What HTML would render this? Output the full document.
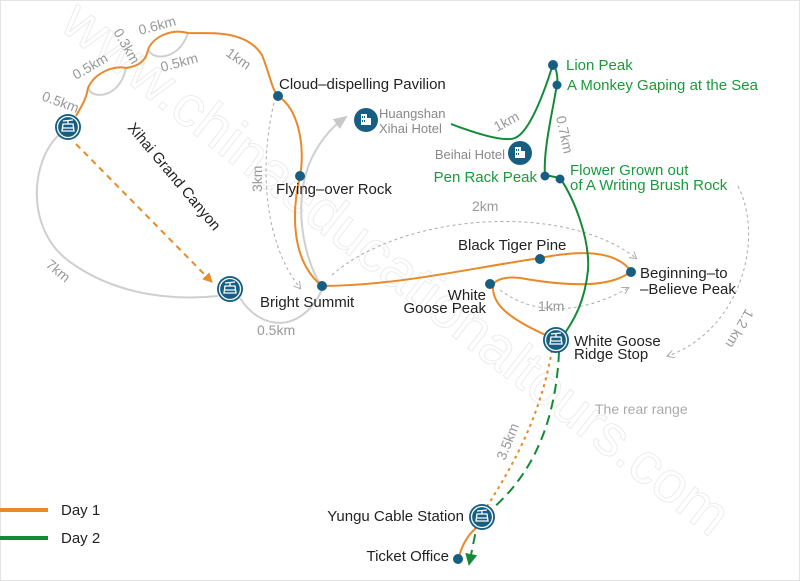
<!DOCTYPE html>
<html><head><meta charset="utf-8"><style>
html,body{margin:0;padding:0;background:#fff;overflow:hidden}
svg{display:block}
text{font-family:"Liberation Sans",sans-serif}
</style></head><body>
<svg width="800" height="581" viewBox="0 0 800 581" xmlns="http://www.w3.org/2000/svg">
<defs>
<marker id="ao" markerWidth="10" markerHeight="10" refX="6" refY="5" orient="auto" markerUnits="userSpaceOnUse"><path d="M0,0 L10,5 L0,10 z" fill="#e8892a"/></marker>
<marker id="ag" markerWidth="12" markerHeight="12" refX="6" refY="6" orient="auto" markerUnits="userSpaceOnUse"><path d="M0,0 L12,6 L0,12 z" fill="#138a36"/></marker>
<marker id="agr" markerWidth="14" markerHeight="14" refX="7" refY="7" orient="auto" markerUnits="userSpaceOnUse"><path d="M0,1 L14,7 L0,13 z" fill="#c8c8c8"/></marker>
<marker id="ad" markerWidth="8" markerHeight="8" refX="6" refY="4" orient="auto" markerUnits="userSpaceOnUse"><path d="M0,0 L7,4 L0,8" fill="none" stroke="#aaa" stroke-width="1"/></marker>
<g id="cab"><circle r="13" fill="#175f82"/><circle r="10.5" fill="none" stroke="#fff" stroke-width="1.3"/><path d="M-5,-6 L5,-7 M0,-6.5 L0,-3 M-5,-3 h10 l1,7 h-12 z M-6,1 h12" fill="none" stroke="#fff" stroke-width="1.3"/></g>
<g id="hot"><circle r="12" fill="#175f82"/><rect x="-5" y="-6" width="6" height="11" fill="#fff"/><rect x="1" y="-2" width="4" height="7" fill="#fff"/><path d="M-3.5,-4v2M-1.5,-4v2M-3.5,0v2M-1.5,0v2" stroke="#175f82" stroke-width="1"/></g>
</defs>
<rect x="0.5" y="0.5" width="799" height="580" fill="none" stroke="#e4e4e4"/>
<text x="0" y="0" transform="translate(58,28) rotate(38)" font-size="58" fill="none" stroke="#ececec" stroke-width="1">www.chinaeducationaltours.com</text>

<g fill="none" stroke="#cfcfcf" stroke-width="2">
<path d="M88,88 C92,100 120,98 126,68"/>
<path d="M148,50 C155,62 180,58 188,33"/>
<path d="M60,134 C30,160 25,230 70,262 C120,298 180,300 218,296"/>
<path d="M240,298 C260,330 300,335 322,290"/>
<path d="M320,284 C300,250 292,190 316,150 C325,135 335,125 342,120" marker-end="url(#agr)"/>
</g>
<g fill="none" stroke="#aaa" stroke-width="1" stroke-dasharray="3,3">
<path d="M274,103 C260,160 262,240 300,288" marker-end="url(#ad)"/>
<path d="M332,275 C400,215 560,200 636,258" marker-end="url(#ad)"/>
<path d="M500,290 C540,320 590,310 628,288" marker-end="url(#ad)"/>
<path d="M738,186 C765,240 740,330 668,356" marker-end="url(#ad)"/>
</g>
<g fill="none" stroke="#e8892a" stroke-width="2">
<path d="M76,116 C82,105 86,100 88,88 C95,72 115,65 126,68 C140,66 146,60 148,50 C152,38 170,28 188,33 C205,34 245,28 262,55 C270,75 272,90 278,96 C300,110 305,150 300,176 C292,210 290,260 322,286 C400,285 460,270 540,258 C580,250 615,250 631,271 C610,290 560,285 520,278 C505,276 495,280 493,285 C492,300 500,315 548,336"/>
<path d="M76,144 L210,280" stroke-dasharray="6,5" marker-end="url(#ao)"/>
<path d="M552,350 C540,420 510,470 486,508" stroke-dasharray="3,4"/>
<path d="M476,528 C468,535 462,545 459,557"/>
</g>
<g fill="none" stroke="#138a36" stroke-width="2">
<path d="M451,124 C480,135 505,142 515,138 C530,132 545,90 553,64 C557,70 558,78 557,84 C553,110 543,150 545,175 L560,178 C575,200 590,240 588,270 C585,300 575,320 560,340"/>
<path d="M559,352 C555,440 520,490 478,520 L470,560" stroke-dasharray="10,6" marker-end="url(#ag)"/>
</g>
<g fill="#175f82">
<circle cx="278" cy="96" r="5"/><circle cx="300" cy="176" r="5"/><circle cx="322" cy="286" r="5"/>
<circle cx="540" cy="259" r="5"/><circle cx="631" cy="272" r="5"/><circle cx="490" cy="284" r="5"/>
<circle cx="553" cy="65" r="5"/><circle cx="557" cy="85" r="4.5"/><circle cx="545" cy="176" r="4.5"/><circle cx="560" cy="179" r="4.5"/>
<circle cx="458" cy="559" r="5"/>
</g>
<use href="#cab" x="68" y="127"/><use href="#cab" x="230" y="289"/><use href="#cab" x="556" y="340"/><use href="#cab" x="482" y="517"/>
<use href="#hot" x="366" y="120"/><use href="#hot" x="520" y="153"/>
<g font-size="15" fill="#222">
<text x="279" y="89">Cloud–dispelling Pavilion</text>
<text x="276" y="194">Flying–over Rock</text>
<text x="260" y="307">Bright Summit</text>
<text x="458" y="250">Black Tiger Pine</text>
<text x="640" y="278">Beginning–to</text>
<text x="640" y="294">–Believe Peak</text>
<text x="486" y="300" text-anchor="end">White</text>
<text x="486" y="313" text-anchor="end">Goose Peak</text>
<text x="574" y="346">White Goose</text>
<text x="574" y="359">Ridge Stop</text>
<text x="464" y="521" text-anchor="end">Yungu Cable Station</text>
<text x="449" y="561" text-anchor="end">Ticket Office</text>
<text x="61" y="515">Day 1</text><text x="61" y="543">Day 2</text>
<text transform="translate(127,128) rotate(50)" font-size="15">Xihai Grand Canyon</text>
</g>
<g font-size="13" fill="#888"><text x="379" y="118">Huangshan</text><text x="379" y="133">Xihai Hotel</text><text x="505" y="159" text-anchor="end">Beihai Hotel</text></g>
<g font-size="15" fill="#1a9a3a">
<text x="566" y="70">Lion Peak</text><text x="567" y="90">A Monkey Gaping at the Sea</text>
<text x="537" y="182" text-anchor="end">Pen Rack Peak</text>
<text x="570" y="175">Flower Grown out</text><text x="570" y="190">of A Writing Brush Rock</text>
</g>
<g font-size="14" fill="#999">
<text transform="translate(41,100) rotate(20)">0.5km</text>
<text transform="translate(76,80) rotate(-30)">0.5km</text>
<text transform="translate(113,32) rotate(60)">0.3km</text>
<text transform="translate(140,35) rotate(-15)">0.6km</text>
<text transform="translate(162,72) rotate(-15)">0.5km</text>
<text transform="translate(225,55) rotate(35)">1km</text>
<text transform="translate(262,192) rotate(-90)">3km</text>
<text transform="translate(45,266) rotate(40)">7km</text>
<text x="257" y="335">0.5km</text>
<text x="472" y="211">2km</text>
<text x="538" y="311">1km</text>
<text transform="translate(497,132) rotate(-28)">1km</text>
<text transform="translate(556,117) rotate(78)">0.7km</text>
<text transform="translate(746,308) rotate(120)">1.2 km</text>
<text transform="translate(505,461) rotate(-68)">3.5km</text>
<text x="595" y="414" fill="#aaa">The rear range</text>
</g>
<line x1="0" y1="510" x2="48" y2="510" stroke="#e8892a" stroke-width="4"/>
<line x1="0" y1="538" x2="48" y2="538" stroke="#138a36" stroke-width="4"/>
</svg>
</body></html>
